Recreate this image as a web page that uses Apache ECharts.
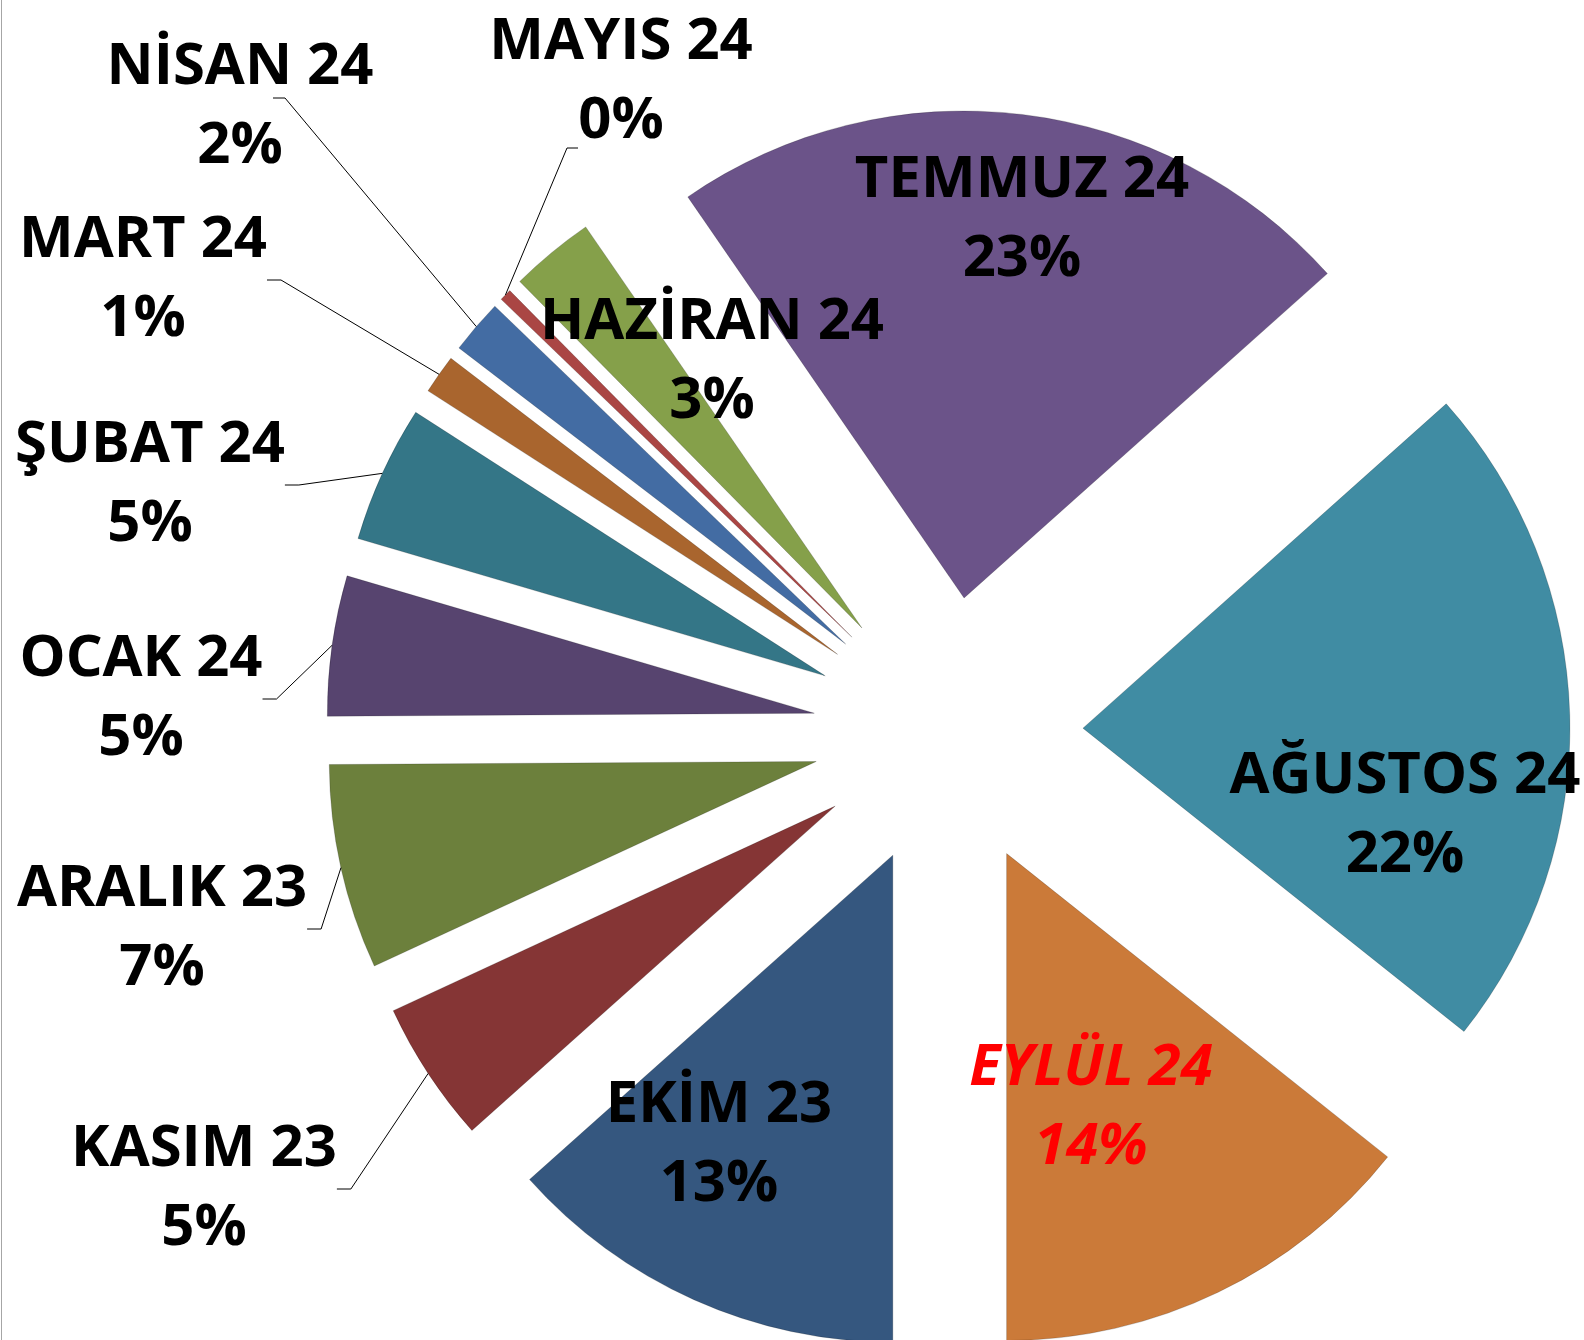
<!DOCTYPE html>
<html>
<head>
<meta charset="utf-8">
<title>Aylara göre dağılım</title>
<script src="https://cdn.jsdelivr.net/npm/echarts@6/dist/echarts.min.js"></script>
<style>
  html, body { margin: 0; padding: 0; background: #fff; }
  #pie { width: 1584px; height: 1340px; }
</style>
</head>
<body>
<div id="pie"></div>
<script>
// months, clockwise from 6 o'clock (Ekim 23 first)
const months = ['EKİM 23', 'KASIM 23', 'ARALIK 23', 'OCAK 24', 'ŞUBAT 24', 'MART 24',
  'NİSAN 24', 'MAYIS 24', 'HAZİRAN 24', 'TEMMUZ 24', 'AĞUSTOS 24', 'EYLÜL 24']
// share of each month (%)
const shares = [13.4, 4.7, 6.8, 4.65, 4.55, 1.3, 1.8, 0.4, 2.8, 23.0, 22.3, 14.3]
const colors = ['#35577f', '#853535', '#6c803c', '#57446f', '#347687', '#a9652e',
  '#436ca3', '#aa4644', '#85a04a', '#6b5389', '#408ca3', '#cb7a39']
// labels drawn on the slice itself
const insideLabels = ['EKİM 23', 'HAZİRAN 24', 'TEMMUZ 24', 'AĞUSTOS 24', 'EYLÜL 24']
// where each label was dragged to in the original (centre of the text block)
const labelSpots = {
  'EKİM 23': [719, 1145],
  'KASIM 23': [204, 1189],
  'ARALIK 23': [162, 929],
  'OCAK 24': [141, 699],
  'ŞUBAT 24': [150, 485],
  'MART 24': [143, 280],
  'NİSAN 24': [240, 107],
  'MAYIS 24': [621, 82],
  'HAZİRAN 24': [712, 362],
  'TEMMUZ 24': [1022, 220],
  'AĞUSTOS 24': [1405, 816],
  'EYLÜL 24': [1091, 1108]
}
// leader lines that end somewhere odd on the label: [dx, dy from label centre, elbow dx]
const leaderEnds = {
  'NİSAN 24': [33, -9, 12],
  'MAYIS 24': [-43, 66, -11]
}

const CENTER = [948, 732]
const RADIUS = 487
const EXPLODE = 135

const chart = echarts.init(document.getElementById('pie'), null, { renderer: 'canvas' })

// the exploded slices
const sliceData = months.map((name, i) => ({
  name: name,
  value: shares[i],
  selected: true,
  itemStyle: { color: colors[i] }
}))

// same values again, invisible, only to carry the labels and leader lines;
// its radius reaches the outer edge of the exploded slices
const labelData = months.map((name, i) => {
  const inside = insideLabels.indexOf(name) >= 0
  const item = {
    name: name,
    value: shares[i],
    label: {},
    labelLine: { show: !inside }
  }
  if (name === 'EYLÜL 24') {
    item.label.color = '#ff0000'
    item.label.fontStyle = 'italic'
  }
  return item
})

chart.setOption({
  animation: false,
  backgroundColor: '#ffffff',
  graphic: [{
    type: 'line',
    shape: { x1: 1.5, y1: 0, x2: 1.5, y2: 1340 },
    style: { stroke: '#a6a6a6', lineWidth: 1 }
  }],
  series: [{
    type: 'pie',
    center: CENTER,
    radius: RADIUS,
    startAngle: 270,
    clockwise: true,
    selectedMode: 'multiple',
    selectedOffset: EXPLODE,
    silent: true,
    itemStyle: { borderColor: 'rgba(0,0,0,0.18)', borderWidth: 1 },
    select: { itemStyle: { borderColor: 'rgba(0,0,0,0.18)', borderWidth: 1 } },
    emphasis: { disabled: true },
    label: { show: false },
    labelLine: { show: false },
    data: sliceData
  }, {
    type: 'pie',
    center: CENTER,
    radius: RADIUS + EXPLODE,
    startAngle: 270,
    clockwise: true,
    silent: true,
    z: 5,
    avoidLabelOverlap: false,
    minShowLabelAngle: 0,
    itemStyle: { color: 'rgba(0,0,0,0)', borderWidth: 0 },
    emphasis: { disabled: true },
    label: {
      show: true,
      position: 'outside',
      color: '#000',
      fontFamily: 'Open Sans',
      fontWeight: 'bold',
      fontSize: 58,
      lineHeight: 79,
      overflow: 'none',
      formatter: (p) => p.name + '\n' + Math.round(p.percent) + '%'
    },
    labelLine: {
      show: true,
      length: 20,
      length2: 14,
      smooth: false,
      lineStyle: { color: '#000', width: 1 }
    },
    labelLayout: (params) => {
      const name = months[params.dataIndex]
      const spot = labelSpots[name]
      const res = { x: spot[0], y: spot[1], align: 'center', verticalAlign: 'middle' }
      const lead = leaderEnds[name]
      if (lead && params.labelLinePoints) {
        const start = params.labelLinePoints[0]
        const end = [spot[0] + lead[0], spot[1] + lead[1]]
        res.labelLinePoints = [start, [end[0] + lead[2], end[1]], end]
      }
      return res
    },
    data: labelData
  }]
})
</script>
</body>
</html>
